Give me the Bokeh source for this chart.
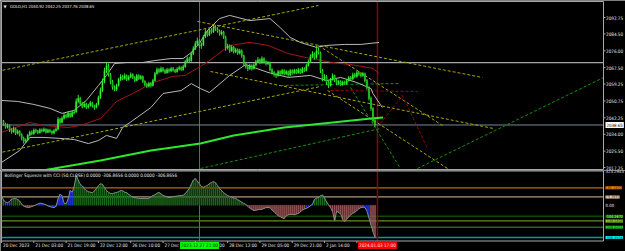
from bokeh.plotting import figure
from bokeh.layouts import column
from bokeh.models import Range1d, Span, Label, ColumnDataSource
from bokeh.embed import file_html
from bokeh.resources import INLINE
from bokeh.core.properties import value

# ------------------------------------------------------------------ data
symbol_title = "GOLD,H1  2040.92 2042.25 2037.76 2038.65"
first_open = 2041.0
closes = [
    2040.5, 2039.0, 2037.5, 2038.2, 2036.0, 2035.2, 2036.8, 2034.5, 2035.5, 2033.8,
    2032.0, 2030.5, 2031.0, 2033.5, 2035.0, 2034.2, 2036.0, 2035.5, 2034.8, 2036.2,
    2035.6, 2036.5, 2035.0, 2036.0, 2035.4, 2034.6, 2035.8, 2036.5, 2041.5, 2040.0,
    2042.0, 2043.5, 2042.8, 2044.5, 2043.0, 2044.8, 2045.2, 2050.5, 2052.0, 2049.5,
    2048.0, 2049.2, 2047.6, 2048.5, 2049.8, 2048.2, 2047.5, 2049.0, 2052.5, 2056.0,
    2060.5, 2066.0, 2068.5, 2064.0, 2060.5, 2057.5, 2056.5, 2058.5, 2061.5, 2063.0,
    2062.0, 2063.5, 2061.5, 2062.8, 2064.0, 2062.5, 2061.0, 2063.5, 2062.0, 2063.0,
    2060.5, 2059.0, 2058.2, 2059.5, 2058.5, 2061.0, 2064.5, 2066.5, 2065.5, 2067.0,
    2066.0, 2065.0, 2066.5, 2065.8, 2067.0, 2066.2, 2065.5, 2066.8, 2067.5, 2066.5,
    2068.0, 2070.5, 2072.0, 2071.0, 2074.5, 2077.0, 2079.5, 2081.0, 2078.5, 2079.0,
    2083.0, 2085.5, 2084.0, 2086.5, 2085.5, 2088.0, 2087.0, 2086.0, 2084.5, 2085.5,
    2083.0, 2077.5, 2078.5, 2076.0, 2077.8, 2075.5, 2076.5, 2074.8, 2076.0, 2073.5,
    2069.5, 2068.0, 2067.0, 2068.5, 2067.0, 2068.8, 2070.5, 2071.5, 2070.0, 2072.0,
    2070.5, 2069.5, 2070.0, 2066.5, 2065.0, 2064.0, 2063.5, 2065.5, 2064.5, 2066.0,
    2064.5, 2065.5, 2063.8, 2066.0, 2064.8, 2066.2, 2065.0, 2066.5, 2065.0, 2067.0,
    2066.0, 2068.5, 2070.5, 2073.0, 2074.5, 2072.5, 2076.0, 2075.0, 2066.0, 2062.0,
    2063.0, 2060.0, 2058.5, 2061.5, 2063.5, 2061.0, 2059.5, 2060.5, 2059.0, 2060.2,
    2059.5, 2061.0, 2062.5, 2061.8, 2064.0, 2063.0, 2065.0, 2064.2, 2063.5, 2064.5,
    2061.0, 2057.5, 2052.0, 2047.0, 2040.92, 2038.65,
]
highs = [
    2042.0, 2041.2, 2039.8, 2039.4, 2038.9, 2037.0, 2037.9, 2037.3, 2036.4, 2036.0,
    2034.5, 2032.8, 2031.9, 2034.2, 2035.8, 2035.9, 2036.9, 2036.8, 2036.2, 2037.0,
    2036.9, 2037.4, 2037.0, 2036.8, 2036.7, 2036.0, 2036.6, 2037.5, 2042.6, 2042.2,
    2043.0, 2044.6, 2044.4, 2045.4, 2045.0, 2045.7, 2046.3, 2052.0, 2053.8, 2052.8,
    2050.3, 2050.2, 2049.9, 2049.4, 2050.7, 2050.4, 2048.9, 2049.8, 2053.4, 2057.5,
    2062.0, 2067.5, 2070.2, 2069.6, 2064.8, 2061.3, 2058.6, 2059.4, 2062.4, 2064.2,
    2063.9, 2064.6, 2064.1, 2063.7, 2065.1, 2064.7, 2063.2, 2064.3, 2064.2, 2063.9,
    2063.6, 2061.2, 2059.9, 2060.4, 2060.2, 2061.9, 2065.4, 2067.6, 2067.3, 2068.0,
    2067.8, 2066.8, 2067.4, 2067.2, 2067.9, 2067.8, 2066.9, 2067.7, 2068.5, 2068.2,
    2069.0, 2071.4, 2073.2, 2073.0, 2075.5, 2078.3, 2080.8, 2082.6, 2081.8, 2080.2,
    2084.0, 2086.8, 2086.4, 2087.6, 2087.4, 2089.3, 2088.9, 2087.9, 2086.7, 2086.4,
    2086.0, 2083.6, 2079.6, 2079.2, 2078.9, 2078.4, 2077.5, 2077.2, 2077.0, 2076.7,
    2074.0, 2070.4, 2068.8, 2069.4, 2069.2, 2069.7, 2071.5, 2072.8, 2072.2, 2073.2,
    2072.7, 2071.2, 2070.9, 2070.6, 2067.2, 2065.8, 2064.9, 2066.4, 2066.2, 2066.9,
    2066.7, 2066.4, 2066.1, 2066.8, 2066.7, 2067.0, 2066.9, 2067.4, 2067.1, 2067.9,
    2067.7, 2069.5, 2071.6, 2074.2, 2075.8, 2075.2, 2078.6, 2077.4, 2075.6, 2066.8,
    2064.2, 2063.8, 2061.0, 2062.4, 2064.6, 2064.0, 2061.8, 2061.4, 2061.2, 2061.0,
    2061.0, 2061.9, 2063.4, 2063.3, 2065.0, 2064.9, 2066.0, 2065.8, 2065.0, 2065.3,
    2065.0, 2061.8, 2058.2, 2053.0, 2047.6, 2042.25,
]
lows = [
    2039.6, 2038.2, 2036.8, 2036.9, 2035.1, 2034.3, 2034.8, 2033.6, 2033.9, 2032.9,
    2031.0, 2029.3, 2029.6, 2030.4, 2033.0, 2033.5, 2033.8, 2034.7, 2034.0, 2034.3,
    2034.9, 2035.0, 2034.3, 2034.6, 2034.7, 2033.8, 2034.0, 2035.2, 2036.0, 2039.2,
    2039.5, 2041.4, 2042.0, 2042.2, 2042.3, 2042.5, 2044.0, 2044.8, 2049.6, 2048.6,
    2047.0, 2047.4, 2046.6, 2046.9, 2047.9, 2047.4, 2046.3, 2047.0, 2048.4, 2051.8,
    2055.2, 2059.6, 2064.8, 2063.0, 2059.2, 2056.4, 2055.6, 2055.8, 2058.0, 2060.8,
    2061.2, 2061.4, 2060.7, 2061.0, 2062.2, 2061.8, 2060.2, 2060.6, 2061.3, 2061.4,
    2059.8, 2058.1, 2057.2, 2057.6, 2057.5, 2058.0, 2060.5, 2064.0, 2064.7, 2065.0,
    2065.2, 2064.3, 2064.5, 2065.0, 2065.2, 2065.5, 2064.7, 2065.0, 2066.2, 2065.8,
    2066.0, 2067.5, 2069.8, 2070.2, 2070.5, 2073.8, 2076.4, 2078.8, 2077.4, 2077.0,
    2078.4, 2082.4, 2083.1, 2083.5, 2084.6, 2085.0, 2086.0, 2085.1, 2083.6, 2083.8,
    2082.0, 2076.0, 2076.6, 2075.0, 2075.4, 2074.6, 2074.8, 2073.9, 2074.2, 2072.5,
    2068.4, 2067.0, 2065.8, 2066.3, 2066.1, 2066.5, 2068.2, 2069.9, 2069.3, 2069.5,
    2069.6, 2068.6, 2068.8, 2065.6, 2064.0, 2063.0, 2062.3, 2062.9, 2063.6, 2063.9,
    2063.6, 2063.8, 2062.9, 2063.2, 2064.0, 2064.2, 2064.2, 2064.5, 2064.3, 2064.6,
    2065.3, 2065.6, 2068.0, 2070.0, 2072.4, 2071.6, 2072.0, 2074.1, 2064.8, 2060.6,
    2061.0, 2058.8, 2057.2, 2058.0, 2061.0, 2060.2, 2058.6, 2058.8, 2058.2, 2058.4,
    2058.7, 2059.0, 2060.4, 2061.0, 2061.2, 2062.2, 2062.5, 2063.4, 2062.6, 2062.9,
    2060.0, 2056.4, 2051.0, 2045.8, 2039.8, 2037.76,
]
last_price = 2038.65
round_level = 2070.0

# Bollinger bands (vertices: bar index, price)
upper_idx = [0, 8, 16, 24, 30, 36, 42, 48, 52, 56, 62, 70, 76, 84, 90, 94, 98, 102, 108,
             113, 123, 133, 138, 143, 148, 156, 161, 170, 178, 187]
upper_val = [2051.0, 2050.5, 2049.0, 2047.0, 2044.5, 2046.0, 2051.0, 2058.5, 2063.6, 2069.6,
             2070.1, 2070.1, 2071.1, 2072.1, 2072.1, 2075.1, 2079.7, 2086.2, 2092.2,
             2093.8, 2091.2, 2092.2, 2087.7, 2082.7, 2080.2, 2077.7, 2078.7, 2079.2, 2079.2, 2080.2]
mid_idx = [0, 14, 21, 33, 39, 49, 57, 65, 75, 85, 91, 98.5, 103, 113, 123, 132, 142, 153,
           164, 176, 184, 187]
mid_val = [2034.9, 2039.9, 2038.4, 2037.4, 2038.4, 2041.9, 2050.5, 2054.5, 2060.0, 2063.1,
           2063.6, 2068.1, 2071.1, 2078.7, 2080.2, 2078.7, 2074.6, 2072.1, 2070.1, 2068.6,
           2067.1, 2064.6]
lower_idx = [0, 9, 14, 21, 29, 36, 43, 48, 52, 57, 60, 65, 74, 80, 89, 94, 98.5, 103, 113,
             121, 125, 132, 142, 153, 161, 168, 176, 183, 184, 188.6]
lower_val = [2019.8, 2025.8, 2032.4, 2032.4, 2031.9, 2031.35, 2029.3, 2030.85, 2033.4, 2031.9,
             2037.4, 2040.9, 2047.45, 2054.5, 2056.0, 2059.5, 2057.0, 2055.0, 2063.6, 2069.1,
             2067.6, 2065.1, 2062.6, 2063.6, 2061.0, 2062.6, 2060.0, 2057.0, 2054.5, 2047.45]
# long moving average
ma_idx = [0, 26, 49, 74, 98.5, 115, 140, 164, 183, 189]
ma_val = [2012.2, 2016.75, 2020.8, 2025.8, 2029.3, 2033.4, 2037.4, 2039.9, 2041.9, 2042.4]

price_ticks = [2092.75, 2084.50, 2076.00, 2067.50, 2059.25, 2050.75, 2042.25, 2034.00,
               2025.50, 2017.25]

# trend lines: (bar0, price0, bar1, price1)
trend_yellow = [
    (0.5, 2066.18, 157.0, 2098.79),
    (97.08, 2090.74, 238.2, 2062.55),
    (0.5, 2025.0, 158.0, 2058.02),
    (103.5, 2065.57, 243.7, 2036.89),
    (157.0, 2078.66, 218.4, 2038.4),
    (161.5, 2056.01, 220.9, 2016.76),
]
trend_green = [
    (206.0, 2016.76, 298.2, 2062.55),
    (98.6, 2016.76, 187.7, 2036.89),
    (172.9, 2057.52, 197.6, 2016.76),
    (138.2, 2058.53, 197.6, 2059.53),
]
trend_red = [(163.0, 2056.0, 206.0, 2055.5)]
red_zigzag_idx = [187.7, 198.6, 211.0]
red_zigzag_val = [2039.4, 2053.5, 2026.8]

green_vline_idx = 98.07
red_vline_idx = 186.2

# Bollinger Squeeze with CCI
ind_title = "Bollinger Squeeze with CCI (50,CLOSE) 0.0000 -306.8656 0.0000 0.0000 -306.8656"
squeeze = [
    90, 50, 30, 25, 35, 60, 62, 65, 55, 40,
    12, -8, -15, -20, -18, -12, -4, 3, 12, 20,
    18, 12, 6, -6, -12, -18, -22, -10, 60, 105,
    90, 20, 15, 60, 140, 125, 180, 284, 240, 200,
    185, 160, 140, 130, 125, 120, 135, 160, 185, 205,
    200, 170, 140, 125, 112, 110, 118, 122, 130, 140,
    138, 125, 120, 105, 90, 78, 74, 70, 66, 64,
    65, 66, 64, 66, 80, 92, 100, 115, 122, 108,
    94, 88, 80, 74, 78, 84, 85, 88, 92, 93,
    96, 110, 135, 160, 200, 240, 255, 230, 205, 178,
    172, 180, 190, 205, 218, 225, 215, 185, 160, 140,
    120, 105, 93, 84, 76, 70, 65, 52, 42, 30,
    18, 8, -10, -25, -38, -50, -47, -42, -40, -38,
    -30, -22, -20, -22, -45, -62, -80, -98, -108, -120,
    -125, -100, -90, -88, -86, -90, -84, -78, -62, -45,
    -35, -30, -18, -5, 10, 55, 68, 74, 92, 98,
    70, 30, 5, -21, -60, -145, -55, -70, -80, -135,
    -154, -130, -110, -90, -75, -65, -50, -32, -22, -18,
    -20, -55, -120, -185, -250, -306.8656,
]
squeeze_on_ranges = [(2, 4), (18, 30), (33, 35), (151, 154), (180, 182)]
level_vals = [166.48, 79.3893, -104.2672, -148.5858, -209.0415, -306.8656]
level_labels = ["166.4800", "79.3893", "-104.2672", "-148.5858", "-209.0415", "-306.8656"]
ind_ticks = [323.2943, 0.0]
ind_tick_labels = ["323.2943", "0.00"]

time_tick_idx = [0, 16, 32, 48, 64, 80, 96, 112, 128, 144, 160, 176]
time_tick_labels = ["20 Dec 2023", "21 Dec 03:00", "21 Dec 19:00", "22 Dec 12:00",
                    "26 Dec 10:00", "27 Dec 03:00", "27 Dec 19:00", "28 Dec 12:00",
                    "29 Dec 05:00", "29 Dec 21:00", "2 Jan 14:00", "3 Jan 07:00"]
green_time_label = "2023.12.27 21:00"
red_time_label = "2024.01.03 17:00"

# ------------------------------------------------------------------ layout / style
W, MAIN_H, IND_H = 625, 170, 81
PX_PER_BAR = 2.019
PX_PER_PRICE = 1.987
PX_PER_IND = 0.105
FONT = "DejaVu Sans Condensed"
FS = "4.6px"
GRID = "#a8a8a8"
TXT = "#e8e8e8"


def bar_at(px):          # horizontal pixel -> bar index
    return (px - 1) / PX_PER_BAR


def price_at(py):        # vertical pixel (page) -> price
    return 2092.75 - (py - 17) / PX_PER_PRICE


def ind_at(py):          # vertical pixel (page) -> indicator value
    return (204.8 - py) / PX_PER_IND


CH_L, CH_R = bar_at(1), bar_at(603)     # chart area left / right edge (bars)


def make_fig(h, y0, y1):
    f = figure(width=W, height=h, x_range=Range1d(bar_at(0), bar_at(W)),
               y_range=Range1d(y0, y1), output_backend="svg", toolbar_location=None,
               x_axis_location=None, y_axis_location=None, min_border=0,
               background_fill_color="black", border_fill_color="black",
               outline_line_color=None)
    f.xgrid.visible = False
    f.ygrid.visible = False
    return f


# ------------------------------------------------------------------ main chart
p = make_fig(MAIN_H, price_at(MAIN_H), price_at(0))

p.segment(x0=[CH_L, CH_L], x1=[CH_R, CH_R], y0=[round_level, last_price],
          y1=[round_level, last_price], line_color=["#d0d0d0", "#778899"], line_width=1)
p.add_layout(Span(location=green_vline_idx, dimension="height", line_color="#1c9a1c",
                  line_width=1, level="underlay"))
p.add_layout(Span(location=red_vline_idx, dimension="height", line_color="#8b0000",
                  line_width=1.5, level="underlay"))

for (xa, ya, xb, yb) in trend_yellow:
    p.line([xa, xb], [ya, yb], line_color="#a8a800", line_width=1, line_dash="3 2")
for (xa, ya, xb, yb) in trend_green:
    p.line([xa, xb], [ya, yb], line_color="#139013", line_width=1, line_dash="3 2")
for (xa, ya, xb, yb) in trend_red:
    p.line([xa, xb], [ya, yb], line_color="#a00000", line_width=1, line_dash="3 2")
p.line(red_zigzag_idx, red_zigzag_val, line_color="#a00000", line_width=1, line_dash="3 2")

p.line(upper_idx, upper_val, line_color="#b8b8b8", line_width=1)
p.line(lower_idx, lower_val, line_color="#b8b8b8", line_width=1)
p.line(mid_idx, mid_val, line_color="#a51515", line_width=1)
p.line(ma_idx, ma_val, line_color="#2ee82e", line_width=2)

opens = [first_open] + closes[:-1]
idx = list(range(len(closes)))
src = ColumnDataSource(dict(
    x=idx, h=highs, l=lows,
    top=[max(o, c) for o, c in zip(opens, closes)],
    bot=[min(o, c) for o, c in zip(opens, closes)],
    fill=["#3cff3c" if c >= o else "#129a12" for o, c in zip(opens, closes)],
))
p.segment(x0="x", y0="l", x1="x", y1="h", source=src, line_color="#2fe52f", line_width=1)
p.vbar(x="x", width=0.55, top="top", bottom="bot", source=src, fill_color="fill",
       line_color="#2fe52f", line_width=0.5)

# frame of the price panel
p.quad(left=[CH_L], right=[CH_R], top=[price_at(1)], bottom=[price_at(169)],
       fill_color=None, line_color=GRID, line_width=1)
# price scale
p.segment(x0=[CH_R] * len(price_ticks), x1=[bar_at(605)] * len(price_ticks),
          y0=price_ticks, y1=price_ticks, line_color=GRID, line_width=1)
p.text(x=[bar_at(605.5)] * len(price_ticks), y=price_ticks,
       text=["%.2f" % t for t in price_ticks], text_font=value(FONT),
       text_font_size=value(FS), text_color=TXT, text_baseline="middle", text_align="left")

p.add_layout(Label(x=bar_at(3), y=price_at(5.5), text="\u25bc", text_color=TXT,
                   text_font="DejaVu Sans", text_font_size="4px", text_baseline="middle"))
p.add_layout(Label(x=bar_at(9.5), y=price_at(5.5), text=symbol_title, text_color="#f0f0f0",
                   text_font=FONT, text_font_size="4.2px", text_baseline="middle"))
p.add_layout(Label(x=bar_at(605), y=last_price, text="%.2f" % last_price,
                   text_color="black", background_fill_color="white", text_font=FONT,
                   text_font_size="4.4px", text_baseline="middle", padding=1))

# ------------------------------------------------------------------ indicator
q = make_fig(IND_H, ind_at(170 + IND_H), ind_at(170))
q.x_range = p.x_range

q.segment(x0=[CH_L] * len(level_vals), x1=[CH_R] * len(level_vals), y0=level_vals,
          y1=level_vals, line_color=["#c86400", "#a89878", "#0b4a0b", "#6b8e23",
                                     "#1e6a1e", "#009a9a"], line_width=1.3)
q.segment(x0=[green_vline_idx, red_vline_idx], x1=[green_vline_idx, red_vline_idx],
          y0=[ind_at(170), ind_at(170)], y1=[ind_at(240.5), ind_at(240.5)],
          line_color=["#1c9a1c", "#8b0000"], line_width=[1, 1.5])

on = set()
for a, b in squeeze_on_ranges:
    on.update(range(a, b + 1))
hcol = ["#1f3dff" if i in on else ("#1c6b1c" if v >= 0 else "#a05a5a")
        for i, v in enumerate(squeeze)]
sq = ColumnDataSource(dict(x=list(range(len(squeeze))), v=squeeze, c=hcol))
q.vbar(x="x", top="v", bottom=0, width=0.5, source=sq, fill_color="c", line_color="c",
       line_width=0.5)
q.line("x", "v", source=sq, line_color="#8a8a8a", line_width=1)

# frame of the indicator panel
q.quad(left=[CH_L], right=[CH_R], top=[ind_at(170.5)], bottom=[ind_at(240.5)],
       fill_color=None, line_color=GRID, line_width=1)
# indicator scale
q.text(x=[bar_at(605)] * len(ind_ticks), y=ind_ticks, text=ind_tick_labels,
       text_font=value(FONT), text_font_size=value("4.3px"), text_color=TXT,
       text_baseline="middle", text_align="left")
# time scale
q.segment(x0=time_tick_idx, x1=time_tick_idx, y0=[ind_at(240.5)] * len(time_tick_idx),
          y1=[ind_at(242.5)] * len(time_tick_idx), line_color=GRID, line_width=1)
q.text(x=time_tick_idx, y=[ind_at(245)] * len(time_tick_idx), text=time_tick_labels,
       x_offset=1.5, text_font=value(FONT), text_font_size=value(FS), text_color=TXT,
       text_baseline="middle", text_align="left")

q.add_layout(Label(x=bar_at(4), y=ind_at(174.5), text=ind_title, text_color=TXT,
                   text_font=FONT, text_font_size="4.6px", text_baseline="middle"))
level_box_colors = ["#ff8c00", "#ffdab9", "#008000", "#9acd32", "#32cd32", "#00ffff"]
level_text_colors = ["#402000", "#302010", "#c0ffc0", "#203000", "#003000", "#003030"]
for v, t, bc, tc in zip(level_vals, level_labels, level_box_colors, level_text_colors):
    q.add_layout(Label(x=bar_at(605), y=v, text=t, text_color=tc,
                       background_fill_color=bc, text_font=FONT, text_font_size="3.8px",
                       text_baseline="middle", padding=0))
q.add_layout(Label(x=green_vline_idx, y=ind_at(245), text=green_time_label,
                   text_align="center", text_baseline="middle", text_color="#003000",
                   background_fill_color="#00ff00", text_font=FONT,
                   text_font_size=FS, padding=1))
q.add_layout(Label(x=red_vline_idx, y=ind_at(245), text=red_time_label,
                   text_align="center", text_baseline="middle", text_color="#ffe0e0",
                   background_fill_color="#ff0000", text_font=FONT,
                   text_font_size=FS, padding=1))

layout = column(p, q, spacing=0)
open("out.html", "w").write(file_html(layout, INLINE))
